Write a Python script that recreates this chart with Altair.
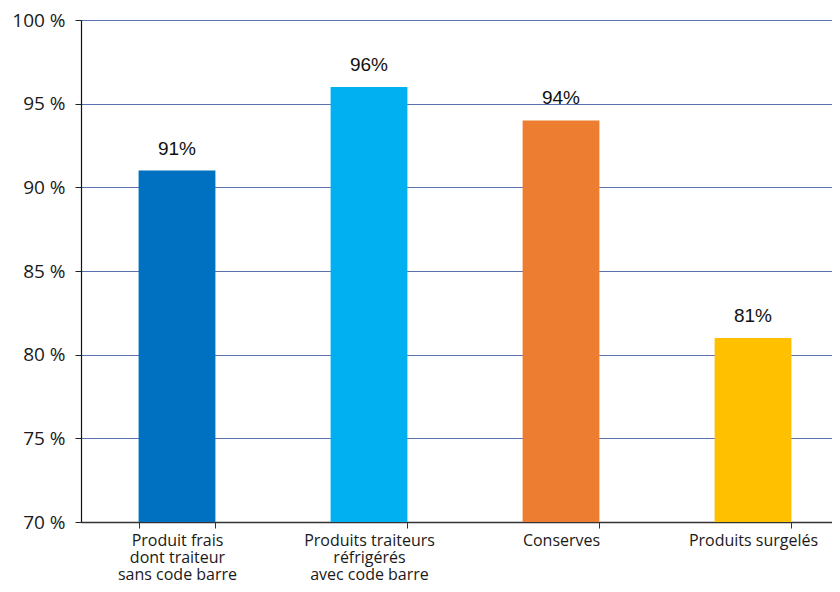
import altair as alt
import pandas as pd

categories = ["Produit frais|dont traiteur|sans code barre",
              "Produits traiteurs|réfrigérés|avec code barre",
              "Conserves",
              "Produits surgelés"]
values = [91, 96, 94, 81]
labels = ["91%", "96%", "94%", "81%"]
colors = ["#0070C0", "#00B0F0", "#ED7D31", "#FFC000"]
y_ticks = [70, 75, 80, 85, 90, 95, 100]

df = pd.DataFrame({"cat": categories, "val": values, "lab": labels, "col": colors})

x = alt.X("cat:N", sort=categories, title=None,
          scale=alt.Scale(paddingInner=0.6, paddingOuter=0.3, range=[0, 768]),
          axis=alt.Axis(labelExpr="split(datum.label, '|')", labelAngle=0,
                        labelFont="Open Sans", labelFontSize=16, labelColor="#1a1a1a",
                        labelLineHeight=17, labelPadding=4, labelBaseline="top",
                        domainColor="#333333", domainWidth=1.5,
                        tickColor="#333333", tickSize=6, tickBand="extent",
                        grid=False))
y = alt.Y("val:Q", title=None,
          scale=alt.Scale(domain=[70, 100], nice=False, zero=False),
          axis=alt.Axis(values=y_ticks,
                        labelExpr="datum.value + ' %'",
                        labelFont="Open Sans", labelFontSize=19, labelColor="#1a1a1a",
                        labelPadding=10, tickSize=6, tickColor="#222222",
                        domainColor="#111111", domainWidth=1.2,
                        grid=True, gridColor="#5a72b0", gridWidth=1))

bars = alt.Chart(df).mark_bar().encode(
    x=x, y=y, y2=alt.datum(70), color=alt.Color("col:N", scale=None)
)
text = alt.Chart(df).mark_text(dy=-22, font="Liberation Sans", fontSize=19, color="#111111").encode(
    x=alt.X("cat:N", sort=categories), y="val:Q", text="lab:N"
)

chart = (bars + text).properties(
    width=751, height=502,
    autosize=alt.AutoSizeParams(type="none"),
    padding={"left": 73, "top": 12, "right": 0, "bottom": 62},
).configure_view(stroke=None).configure_axis(labelOverlap=False)

chart.save("out.html", embed_options={"renderer": "svg", "actions": False})
